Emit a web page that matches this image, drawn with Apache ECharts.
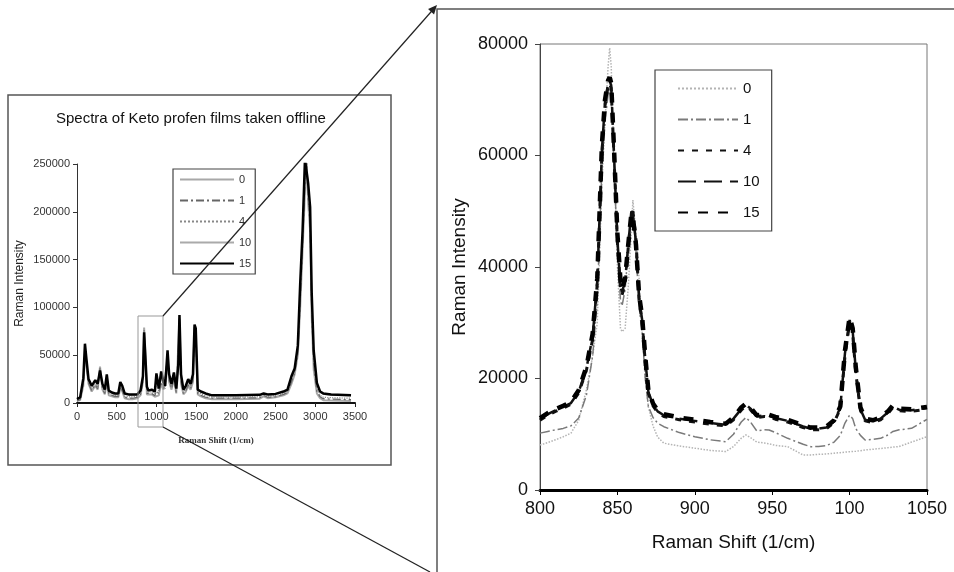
<!DOCTYPE html>
<html>
<head>
<meta charset="utf-8">
<script src="https://cdn.jsdelivr.net/npm/echarts@6/dist/echarts.min.js"></script>
<style>
  html, body { margin: 0; padding: 0; background: #fff; }
  #chart { width: 954px; height: 572px; }
</style>
</head>
<body>
<div id="chart"></div>
<script>
// ---- full spectrum (inset, left) ----
const insetShift = [0, 40, 60, 80, 100, 120, 145, 185, 230, 260, 290, 320, 350, 375, 400, 440, 480, 520, 545, 570,
  600, 650, 700, 760, 800, 830, 845, 860, 880, 900, 940, 980, 1000, 1030, 1060, 1090, 1110, 1140, 1160, 1190,
  1220, 1250, 1275, 1290, 1310, 1340, 1370, 1400, 1430, 1460, 1480, 1495, 1520, 1560, 1620, 1700, 2000, 2300, 2350, 2400,
  2500, 2600, 2650, 2700, 2740, 2780, 2810, 2840, 2870, 2890, 2910, 2935, 2955, 2980, 3020, 3060, 3100, 3200, 3450];

const inset0 = [2000, 3000, 5000, 18000, 50000, 38000, 20000, 12000, 18000, 14000, 38000, 14000, 9000, 22000, 8000, 7000, 6000, 6000, 15000, 12000,
  5000, 4000, 4000, 5000, 8000, 22000, 79000, 52000, 9000, 7500, 9000, 6500, 7000, 8000, 20000, 14000, 12000, 45000, 22000, 14000,
  25000, 10000, 60000, 88000, 20000, 9000, 12000, 18000, 14000, 22000, 80000, 70000, 9000, 7000, 5000, 4000, 4000, 4500, 7000, 5000,
  6000, 8000, 10000, 20000, 30000, 50000, 100000, 160000, 220000, 255000, 210000, 180000, 90000, 35000, 10000, 5000, 3000, 2500, 2000];
const inset1 = [2500, 3500, 5500, 20000, 52000, 39000, 21000, 13000, 19000, 15000, 37000, 15000, 10000, 23000, 9000, 8000, 7000, 7000, 16000, 13000,
  6000, 5000, 5000, 6000, 9000, 23000, 76000, 51000, 10000, 8500, 10000, 7500, 13000, 9500, 22000, 15000, 13000, 47000, 24000, 15000,
  26000, 11000, 55000, 88000, 22000, 10000, 13000, 19000, 15000, 24000, 80000, 72000, 10000, 8000, 6000, 5000, 5000, 5500, 8000, 6000,
  6500, 9000, 11000, 22000, 31000, 52000, 105000, 165000, 230000, 255000, 215000, 185000, 95000, 40000, 12000, 6500, 4500, 4000, 3500];
const inset4 = [3000, 4500, 6500, 22000, 55000, 40000, 22000, 15000, 20000, 16000, 36000, 17000, 11000, 25000, 10000, 9000, 8000, 8000, 18000, 14000,
  7000, 6500, 6500, 7000, 11000, 25000, 72500, 50000, 13000, 10500, 12000, 9500, 20000, 12000, 26000, 18000, 15000, 50000, 26000, 17000,
  28000, 12000, 50000, 89000, 25000, 11000, 15000, 21000, 17000, 26000, 81000, 74000, 11500, 9500, 7500, 6000, 6000, 6500, 8500, 7000,
  7500, 10000, 12000, 24000, 33000, 55000, 110000, 170000, 240000, 255000, 220000, 190000, 100000, 45000, 15000, 8000, 6000, 5500, 5000];
const inset10 = [4000, 5500, 7500, 24000, 58000, 42000, 23000, 16000, 22000, 18000, 32000, 18000, 12000, 27000, 12000, 10000, 9000, 9000, 20000, 16000,
  9000, 8000, 8000, 8500, 12500, 27000, 73000, 50500, 16000, 12500, 13500, 11500, 30000, 14500, 30000, 20000, 17000, 52000, 28000, 19000,
  30000, 14000, 42000, 90000, 28000, 13000, 17000, 24000, 19000, 28000, 80000, 75000, 13000, 11000, 9000, 7500, 7500, 8000, 9500, 8500,
  9000, 11500, 13000, 26000, 34000, 58000, 120000, 175000, 250000, 255000, 225000, 200000, 110000, 50000, 19000, 11000, 9000, 8000, 7500];
const inset15 = [4000, 6000, 8000, 26000, 62000, 45000, 25000, 18000, 24000, 20000, 34000, 20000, 14000, 30000, 13000, 11000, 10000, 10000, 22000, 18000,
  10000, 9000, 9000, 9000, 13000, 28000, 74000, 50000, 17000, 13000, 14000, 12000, 31000, 15000, 33000, 22000, 18000, 55000, 30000, 20000,
  32000, 15000, 40000, 92000, 30000, 14000, 18000, 25000, 20000, 30000, 82000, 78000, 14000, 12000, 10000, 8000, 8000, 8500, 10000, 9000,
  9500, 12000, 14000, 28000, 36000, 60000, 125000, 180000, 255000, 255000, 230000, 205000, 115000, 55000, 21000, 12000, 10000, 9000, 8000];

// ---- zoomed region 800-1050 (main, right) ----
const bigShift = [800, 805, 810, 815, 820, 825, 830, 834, 837, 840, 842, 844, 845, 846, 848, 850, 852, 853, 855, 857,
  859, 860, 862, 864, 866, 868, 870, 873, 876, 880, 890, 900, 910, 920, 925, 930, 933, 936, 940, 945,
  948, 952, 960, 970, 975, 980, 985, 990, 994, 997, 1000, 1002, 1004, 1007, 1010, 1015, 1020, 1025, 1028, 1032, 1040, 1050];

const big0 = [8070, 8500, 9000, 9560, 10200, 12500, 18000, 24000, 30000, 55000, 66000, 76000, 79300, 76000, 58000, 40000, 29000, 28400, 29000, 36400,
  46000, 52000, 46000, 38000, 28000, 20000, 14900, 11500, 9500, 8400, 7900, 7500, 7100, 6900, 7800, 9300, 9870, 9400, 8600, 8430,
  8300, 8000, 7770, 6280, 6300, 6400, 6460, 6600, 6700, 6800, 6870, 6900, 6950, 7050, 7180, 7300, 7450, 7600, 7700, 7800, 8600, 9560];
const big1 = [10200, 10500, 10800, 11050, 11500, 12900, 17000, 24000, 34000, 58000, 66000, 71000, 72000, 70000, 57000, 43000, 34000, 33000, 36000, 43000,
  49000, 49500, 43000, 33000, 28000, 20000, 15000, 13000, 12000, 11350, 10300, 9560, 9000, 8670, 10000, 12200, 13000, 12200, 10600, 10800,
  10760, 10300, 9270, 8200, 7770, 7800, 7950, 8600, 9800, 12000, 13450, 12800, 11000, 9800, 8970, 9100, 9270, 9900, 10500, 10800, 11060, 12680];
const big4 = [12500, 13400, 14100, 14700, 15400, 17400, 21500, 27000, 37000, 60500, 69000, 72500, 73000, 72000, 58500, 44500, 36000, 35000, 37000, 43500,
  49500, 50000, 45000, 34000, 30000, 23000, 17300, 15100, 13900, 13200, 12600, 12200, 11800, 11500, 12600, 14300, 15100, 14400, 13000, 13200,
  13100, 12700, 12200, 11200, 10800, 10800, 11000, 12100, 14600, 24000, 30000, 28000, 21000, 14300, 12400, 12100, 12600, 13800, 14800, 14200, 14100, 14500];
const big10 = [12700, 13600, 14300, 14900, 15600, 17600, 21800, 27500, 37500, 61000, 69500, 73000, 73500, 72500, 59000, 45000, 36500, 35500, 37500, 44000,
  50000, 49500, 44500, 34500, 30500, 23500, 17600, 15300, 14100, 13400, 12800, 12400, 12000, 11700, 12800, 14500, 15300, 14600, 13200, 13400,
  13300, 12900, 12400, 11400, 11000, 11000, 11200, 12300, 14800, 24500, 30500, 28500, 21500, 14500, 12600, 12300, 12800, 14000, 15000, 14400, 14300, 14700];
const big15 = [12900, 13800, 14500, 15100, 15800, 17900, 22100, 28000, 38000, 62000, 70000, 73500, 74000, 73000, 60000, 46000, 37500, 36000, 38000, 44000,
  49500, 49000, 44000, 35000, 31000, 24000, 17900, 15500, 14300, 13600, 13000, 12600, 12200, 11900, 13000, 14800, 15500, 14800, 13400, 13600,
  13500, 13100, 12600, 11600, 11200, 11200, 11400, 12500, 15000, 25000, 31000, 29000, 22000, 14800, 12800, 12500, 13000, 14200, 15200, 14600, 14500, 14900];

const bigTickLabels = ['800', '850', '900', '950', '100', '1050'];
const seriesNames = ['0', '1', '4', '10', '15'];

const FONT = 'Liberation Sans, Arial, sans-serif';
const pair = (xs, ys) => xs.map((x, i) => [x, ys[i]]);
const plain = v => String(v);

const bigStyles = {
  '0': { color: '#b4b4b4', width: 1.5, type: 'dotted' },
  '1': { color: '#7a7a7a', width: 1.5, type: [10, 3, 2, 3] },
  '4': { color: '#111', width: 3, type: [6, 8] },
  '10': { color: '#111', width: 2.5, type: [18, 8] },
  '15': { color: '#000', width: 4.5, type: [10, 10] }
};
const insetStyles = {
  '0': { color: '#a8a8a8', width: 2, type: 'solid' },
  '1': { color: '#666', width: 1.2, type: [8, 3, 2, 3] },
  '4': { color: '#888', width: 1.2, type: 'dotted' },
  '10': { color: '#aaa', width: 1, type: 'solid' },
  '15': { color: '#000', width: 2.5, type: 'solid' }
};
const bigData = { '0': big0, '1': big1, '4': big4, '10': big10, '15': big15 };
const insetData = { '0': inset0, '1': inset1, '4': inset4, '10': inset10, '15': inset15 };

const series = [];
seriesNames.forEach(n => {
  series.push({
    name: n, type: 'line', xAxisIndex: 0, yAxisIndex: 0,
    symbol: 'none', lineStyle: bigStyles[n], itemStyle: { color: bigStyles[n].color },
    data: pair(bigShift, bigData[n])
  });
});
seriesNames.forEach(n => {
  series.push({
    name: 'inset ' + n, type: 'line', xAxisIndex: 1, yAxisIndex: 1,
    symbol: 'none', showSymbol: false,
    lineStyle: insetStyles[n], itemStyle: { color: insetStyles[n].color },
    data: pair(insetShift, insetData[n])
  });
});

const chart = echarts.init(document.getElementById('chart'));
chart.setOption({
  animation: false,
  backgroundColor: '#fff',
  title: {
    text: 'Spectra of Keto profen films taken offline',
    left: 51, top: 106,
    textStyle: { fontFamily: FONT, fontSize: 15, fontWeight: 'normal', color: '#111' }
  },
  legend: [{
    data: seriesNames,
    orient: 'vertical', left: 655, top: 70,
    padding: [11, 12, 11, 22],
    itemWidth: 60, itemHeight: 14, itemGap: 16,
    itemStyle: { opacity: 0 },
    borderColor: '#444', borderWidth: 1.2,
    textStyle: { fontFamily: FONT, fontSize: 15, color: '#111' }
  }, {
    data: seriesNames.map(n => 'inset ' + n),
    formatter: name => name.replace('inset ', ''),
    orient: 'vertical', left: 173, top: 169,
    padding: [5, 4, 5, 6],
    itemWidth: 54, itemHeight: 8, itemGap: 10,
    itemStyle: { opacity: 0 },
    borderColor: '#444', borderWidth: 1.2,
    textStyle: { fontFamily: FONT, fontSize: 11, color: '#333' }
  }],
  grid: [
    { left: 540, top: 44, right: 27, bottom: 82, show: true, borderColor: '#777', borderWidth: 1 },
    { left: 77, top: 164, right: 599, bottom: 169 }
  ],
  xAxis: [{
    type: 'value', gridIndex: 0, min: 800, max: 1050, interval: 50,
    axisLine: { lineStyle: { color: '#000', width: 3 } },
    axisTick: { length: 5, lineStyle: { color: '#000' } },
    axisLabel: { fontFamily: FONT, fontSize: 18, color: '#111', margin: 10,
      formatter: v => bigTickLabels[Math.round((v - 800) / 50)] },
    splitLine: { show: false },
    name: 'Raman Shift (1/cm)', nameLocation: 'middle', nameGap: 43,
    nameTextStyle: { fontFamily: FONT, fontSize: 19, color: '#111' }
  }, {
    type: 'value', gridIndex: 1, min: 0, max: 3500, interval: 500,
    axisLine: { lineStyle: { color: '#111', width: 2 } },
    axisTick: { length: 4, lineStyle: { color: '#222' } },
    axisLabel: { fontFamily: FONT, fontSize: 11, color: '#333', margin: 8, formatter: plain },
    splitLine: { show: false },
    name: 'Raman Shift (1/cm)', nameLocation: 'middle', nameGap: 33,
    nameTextStyle: { fontFamily: 'Liberation Serif, serif', fontSize: 9, fontWeight: 'bold', color: '#333' }
  }],
  yAxis: [{
    type: 'value', gridIndex: 0, min: 0, max: 80000, interval: 20000,
    axisLine: { show: true, lineStyle: { color: '#444', width: 1 } },
    axisTick: { show: true, length: 5, lineStyle: { color: '#444' } },
    axisLabel: { fontFamily: FONT, fontSize: 18, color: '#111', margin: 12, formatter: plain },
    splitLine: { show: false },
    name: 'Raman Intensity', nameLocation: 'middle', nameGap: 71, nameRotate: 90,
    nameTextStyle: { fontFamily: FONT, fontSize: 19, color: '#111' }
  }, {
    type: 'value', gridIndex: 1, min: 0, max: 250000, interval: 50000,
    axisLine: { show: true, lineStyle: { color: '#333', width: 1 } },
    axisTick: { show: true, length: 4, lineStyle: { color: '#333' } },
    axisLabel: { fontFamily: FONT, fontSize: 11, color: '#333', margin: 7, formatter: plain },
    splitLine: { show: false },
    name: 'Raman Intensity', nameLocation: 'middle', nameGap: 51, nameRotate: 90,
    nameTextStyle: { fontFamily: FONT, fontSize: 12, color: '#222' }
  }],
  graphic: [
    // frame around the overview plot
    { type: 'rect', shape: { x: 8, y: 95, width: 383, height: 370 },
      style: { fill: null, stroke: '#555', lineWidth: 1.5 }, z: 0 },
    // frame of the zoomed plot
    { type: 'polyline', shape: { points: [[437, 572], [437, 9], [954, 9]] },
      style: { fill: null, stroke: '#555', lineWidth: 1.5 } },
    // zoom window in the overview
    { type: 'rect', shape: { x: 138, y: 316, width: 25, height: 111 },
      style: { fill: null, stroke: '#999', lineWidth: 1 }, z: 50 },
    // connector lines
    { type: 'line', shape: { x1: 163, y1: 316, x2: 434, y2: 8.5 },
      style: { stroke: '#222', lineWidth: 1.2 }, z: 50 },
    { type: 'polygon', shape: { points: [[437, 5], [434.05, 14.39], [428.05, 9.11]] },
      style: { fill: '#222' }, z: 50 },
    { type: 'line', shape: { x1: 163, y1: 427, x2: 430, y2: 572 },
      style: { stroke: '#222', lineWidth: 1.2 }, z: 50 }
  ],
  series: series
});
</script>
</body>
</html>
